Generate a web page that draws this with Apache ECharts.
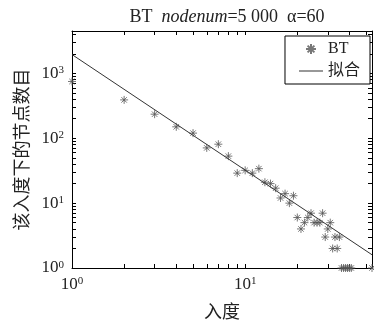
<!DOCTYPE html>
<html>
<head>
<meta charset="utf-8">
<script src="https://cdn.jsdelivr.net/npm/echarts@6/dist/echarts.min.js"></script>
<style>
  html, body { margin: 0; padding: 0; background: #fff; }
  #chart { width: 374px; height: 328px; }
</style>
</head>
<body>
<div id="chart"></div>
<script>
// 入度 / 节点数
var degrees = [1, 2, 3, 4, 5, 6, 7, 8, 9, 10, 11, 12, 13, 14, 15, 16, 17, 18, 19, 20,
  21, 22, 23, 24, 25, 26, 27, 28, 29, 30, 31, 32, 33, 34, 35, 36, 37, 38, 39, 40, 41, 54];
var counts = [750, 390, 235, 150, 120, 71, 81, 53, 29, 32, 29, 34, 21, 20, 17, 12, 14, 10, 13, 6,
  4, 5, 6, 7, 5, 5, 5, 7, 3, 4, 5, 2, 3, 2, 3, 1, 1, 1, 1, 1, 1, 1];

// 拟合直线两端
var fitDeg = [1, 54];
var fitCnt = [1950, 1.6];

// 刻度
var xTicks = [1, 2, 3, 4, 5, 6, 7, 8, 9, 10, 20, 30, 40, 50];
var xLabels = [1, 10];
var yTicks = [1, 2, 3, 4, 5, 6, 7, 8, 9, 10, 20, 30, 40, 50, 60, 70, 80, 90,
  100, 200, 300, 400, 500, 600, 700, 800, 900, 1000, 2000, 3000, 4000];
var yLabels = [1, 10, 100, 1000];

var serif = '"Liberation Serif", "DejaVu Serif", serif';
var cjk = '"Noto Sans CJK SC", sans-serif';
var star = 'path://M5,0 L5,10 M0,5 L10,5 M1.6,1.6 L8.4,8.4 M8.4,1.6 L1.6,8.4';
// 图例里的实线
var lineIcon = 'path://M0,0 L0.01,0 L0,0.01 Z M0,4.4 L24,4.4 L24,5.6 L0,5.6 Z M24,10 L23.99,10 L24,9.99 Z';

var pts = degrees.map(function (d, i) { return [d, counts[i]]; });
var fit = fitDeg.map(function (d, i) { return [d, fitCnt[i]]; });

function powLabel(v) {
  var e = Math.round(Math.log(v) / Math.LN10);
  return '{b|10}{s|' + e + '}';
}
var labelRich = {
  b: { fontSize: 17, fontFamily: serif, color: '#222' },
  s: { fontSize: 11, fontFamily: serif, color: '#222', verticalAlign: 'top' }
};

function logAxis(pos, min, max, ticks, labels, main) {
  var ax = {
    type: 'log',
    position: pos,
    min: min,
    max: max,
    axisLine: { show: true, lineStyle: { color: '#000', width: 1 } },
    axisTick: { show: true, inside: true, length: 4, customValues: ticks, lineStyle: { color: '#000' } },
    axisLabel: { show: false },
    splitLine: { show: false }
  };
  if (main) {
    ax.axisLabel = {
      show: true,
      customValues: labels,
      formatter: powLabel,
      rich: labelRich,
      margin: 8
    };
  }
  return ax;
}

var myChart = echarts.init(document.getElementById('chart'));
var xBottom = logAxis('bottom', 1, 54, xTicks, xLabels, true);
xBottom.name = '入度';
xBottom.nameLocation = 'middle';
xBottom.nameGap = 34;
xBottom.nameTextStyle = { fontSize: 18, fontFamily: cjk, color: '#222' };

var yLeft = logAxis('left', 1, 4500, yTicks, yLabels, true);
yLeft.name = '该入度下的节点数目';
yLeft.nameLocation = 'middle';
yLeft.nameGap = 40;
yLeft.nameRotate = 90;
yLeft.nameTextStyle = { fontSize: 18, fontFamily: cjk, color: '#222' };

var option = {
  animation: false,
  backgroundColor: '#fff',
  title: {
    text: '{n|BT  }{i|nodenum}{n|=5 000  α=60}',
    left: 222,
    textAlign: 'center',
    top: 3,
    textStyle: {
      rich: {
        n: { fontSize: 18, fontFamily: serif, fontWeight: 'normal', color: '#222' },
        i: { fontSize: 18, fontFamily: serif, fontWeight: 'normal', fontStyle: 'italic', color: '#222' }
      }
    }
  },
  grid: { left: 72, right: 2, top: 31, bottom: 60, containLabel: false, outerBoundsMode: 'none' },
  legend: {
    data: ['BT', { name: '拟合', icon: lineIcon }],
    orient: 'vertical',
    right: 4,
    top: 36,
    backgroundColor: '#fff',
    borderColor: '#000',
    borderWidth: 1,
    borderRadius: 0,
    padding: [5, 10, 5, 14],
    itemGap: 6,
    itemWidth: 24,
    itemHeight: 10,
    textStyle: { fontSize: 16, fontFamily: serif + ', ' + cjk, color: '#222' }
  },
  xAxis: [xBottom, logAxis('top', 1, 54, xTicks, xLabels, false)],
  yAxis: [yLeft, logAxis('right', 1, 4500, yTicks, yLabels, false)],
  series: [
    {
      name: 'BT',
      type: 'scatter',
      data: pts,
      symbol: star,
      symbolSize: 8,
      clip: false,
      itemStyle: { color: 'transparent', borderColor: '#555', borderWidth: 1 }
    },
    {
      name: '拟合',
      type: 'line',
      data: fit,
      symbol: 'none',
      lineStyle: { color: '#333', width: 1 },
      itemStyle: { color: '#333' }
    }
  ]
};
myChart.setOption(option);
</script>
</body>
</html>
